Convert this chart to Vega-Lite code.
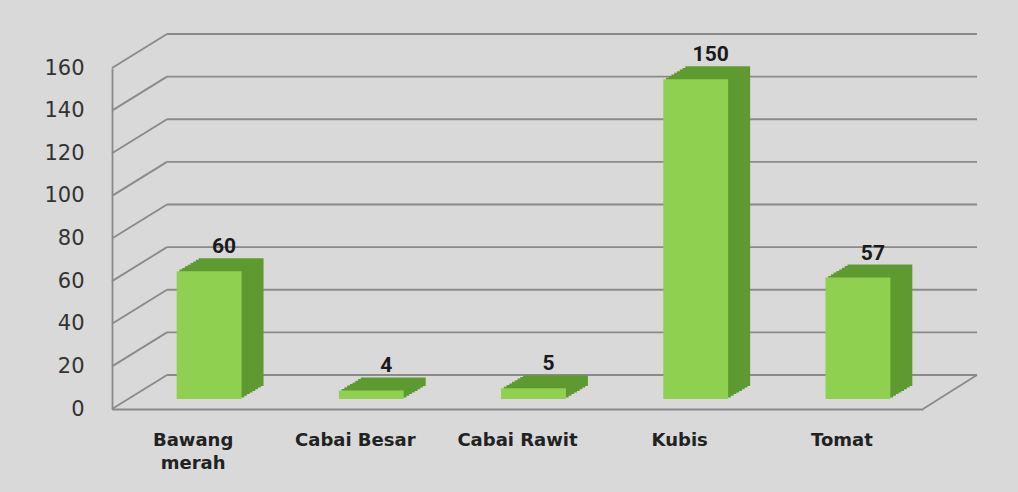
{
  "$schema": "https://vega.github.io/schema/vega-lite/v6.json",
  "autosize": "none",
  "width": 811,
  "height": 341,
  "padding": {"left": 112, "top": 68, "right": 95, "bottom": 83},
  "background": "#d9d9d9",
  "config": {"view": {"stroke": null}},
  "datasets": {
    "bars": [
      {"cat": "Bawang merah", "v": 60},
      {"cat": "Cabai Besar", "v": 4},
      {"cat": "Cabai Rawit", "v": 5},
      {"cat": "Kubis", "v": 150},
      {"cat": "Tomat", "v": 57}
    ],
    "grid": [
      {"v": 0}, {"v": 20}, {"v": 40}, {"v": 60}, {"v": 80},
      {"v": 100}, {"v": 120}, {"v": 140}, {"v": 160}
    ]
  },
  "encoding": {
    "x": {
      "field": "cat", "type": "nominal",
      "scale": {"paddingInner": 0, "paddingOuter": 0, "domain": ["Bawang merah", "Cabai Besar", "Cabai Rawit", "Kubis", "Tomat"]},
      "axis": {
        "title": null, "labelAngle": 0, "ticks": false, "tickSize": 0,
        "labelPadding": 22, "domainColor": "#8a8a8a", "domainWidth": 1.8,
        "labelFont": "DejaVu Sans", "labelFontWeight": "bold", "labelFontSize": 18,
        "labelColor": "#222222", "labelLineHeight": 23,
        "labelExpr": "datum.label == 'Bawang merah' ? ['Bawang', 'merah'] : datum.label"
      }
    },
    "y": {
      "field": "v", "type": "quantitative",
      "scale": {"domain": [0, 160], "nice": false},
      "axis": {
        "title": null, "grid": false, "ticks": false, "tickSize": 0,
        "values": [0, 20, 40, 60, 80, 100, 120, 140, 160],
        "labelPadding": 28, "domainColor": "#8a8a8a", "domainWidth": 1.8,
        "labelFont": "DejaVu Sans", "labelFontSize": 21, "labelColor": "#333333"
      }
    }
  },
  "layer": [
    {
      "data": {"name": "grid"},
      "mark": {"type": "rule", "color": "#8a8a8a", "strokeWidth": 1.8, "xOffset": 55, "x2Offset": 54, "yOffset": -34, "y2Offset": -34},
      "encoding": {
        "x": {"datum": "Bawang merah", "bandPosition": 0},
        "x2": {"datum": "Tomat", "bandPosition": 1},
        "y": {"field": "v", "type": "quantitative"},
        "y2": {"field": "v"}
      }
    },
    {
      "data": {"name": "grid"},
      "mark": {"type": "rule", "color": "#8a8a8a", "strokeWidth": 1.8, "x2Offset": 55, "y2Offset": -34},
      "encoding": {
        "x": {"datum": "Bawang merah", "bandPosition": 0},
        "x2": {"datum": "Bawang merah", "bandPosition": 0},
        "y": {"field": "v", "type": "quantitative"},
        "y2": {"field": "v"}
      }
    },
    {
      "data": {"values": [{"v": 0}]},
      "mark": {"type": "rule", "color": "#8a8a8a", "strokeWidth": 1.8, "x2Offset": 54, "y2Offset": -34},
      "encoding": {
        "x": {"datum": "Tomat", "bandPosition": 1},
        "x2": {"datum": "Tomat", "bandPosition": 1},
        "y": {"field": "v", "type": "quantitative"},
        "y2": {"field": "v"}
      }
    },
    {"data": {"name": "bars"}, "mark": {"type": "bar", "width": {"band": 0.4}, "color": "#5e9a30", "xOffset": 38, "yOffset": -23, "y2Offset": -24}},
    {"data": {"name": "bars"}, "mark": {"type": "bar", "width": {"band": 0.4}, "color": "#5e9a30", "xOffset": 35.25, "yOffset": -21.4, "y2Offset": -22.4}},
    {"data": {"name": "bars"}, "mark": {"type": "bar", "width": {"band": 0.4}, "color": "#5e9a30", "xOffset": 32.5, "yOffset": -19.75, "y2Offset": -20.75}},
    {"data": {"name": "bars"}, "mark": {"type": "bar", "width": {"band": 0.4}, "color": "#5e9a30", "xOffset": 29.75, "yOffset": -18.1, "y2Offset": -19.1}},
    {"data": {"name": "bars"}, "mark": {"type": "bar", "width": {"band": 0.4}, "color": "#5e9a30", "xOffset": 27, "yOffset": -16.5, "y2Offset": -17.5}},
    {"data": {"name": "bars"}, "mark": {"type": "bar", "width": {"band": 0.4}, "color": "#5e9a30", "xOffset": 24.25, "yOffset": -14.9, "y2Offset": -15.9}},
    {"data": {"name": "bars"}, "mark": {"type": "bar", "width": {"band": 0.4}, "color": "#5e9a30", "xOffset": 21.5, "yOffset": -13.25, "y2Offset": -14.25}},
    {"data": {"name": "bars"}, "mark": {"type": "bar", "width": {"band": 0.4}, "color": "#5e9a30", "xOffset": 18.75, "yOffset": -11.6, "y2Offset": -12.6}},
    {"data": {"name": "bars"}, "mark": {"type": "bar", "width": {"band": 0.4}, "color": "#90d050", "xOffset": 16, "yOffset": -10, "y2Offset": -11}},
    {
      "data": {"name": "bars"},
      "mark": {"type": "text", "font": "Roboto", "fontWeight": "bold", "fontSize": 21, "color": "#1a1a1a", "baseline": "middle", "align": "center", "xOffset": 31, "yOffset": -34},
      "encoding": {"text": {"field": "v", "type": "quantitative"}}
    }
  ]
}
